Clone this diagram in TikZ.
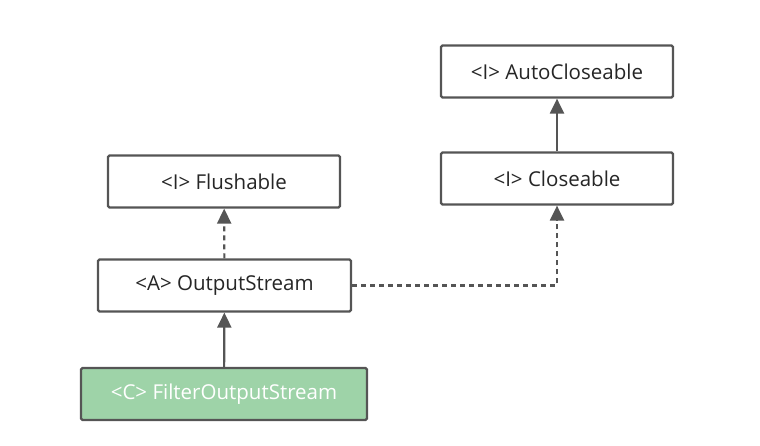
\documentclass[tikz,border=0pt]{standalone}
\usepackage{fontspec}
\setmainfont{Open Sans}
\usepackage{tikz}
\usetikzlibrary{arrows.meta, positioning}
\definecolor{umlgray}{RGB}{85,85,85}
\definecolor{umlgreen}{RGB}{158,211,168}
\tikzset{
  cls/.style={draw=umlgray, fill=white, rounded corners=1.5pt,
              minimum width=#1, minimum height=52pt, align=center,
              font=\fontsize{20.5}{24}\selectfont, line width=2.2pt, text=black!85},
  clsC/.style={cls=#1, fill=umlgreen, text=white},
  inh/.style={-{Triangle[length=15pt, width=14pt]}, draw=umlgray, line width=2.2pt},
  impl/.style={inh, dash pattern=on 5pt off 4pt},
}

\begin{document}
\begin{tikzpicture}[x=1pt, y=-1pt]
  \useasboundingbox (0,0) rectangle (760,445);

  % interfaces
  \node[cls=232pt] (auto) at (557,71.5) {<I> AutoCloseable};
  \node[cls=232pt] (clo) at (557,178.5) {<I> Closeable};
  \node[cls=232pt] (flush) at (224,181.5) {<I> Flushable};

  % classes
  \node[cls=253pt] (out) at (224.5,285.5) {<A> OutputStream};
  \node[clsC=286pt] (filt) at (224,394) {<C> FilterOutputStream};

  % relations
  \draw[inh] (clo) -- (auto);
  \draw[impl] (out) -- (flush);
  \draw[impl] (out.east) -| (clo.south);
  \draw[inh] (filt) -- (out);
\end{tikzpicture}
\end{document}
